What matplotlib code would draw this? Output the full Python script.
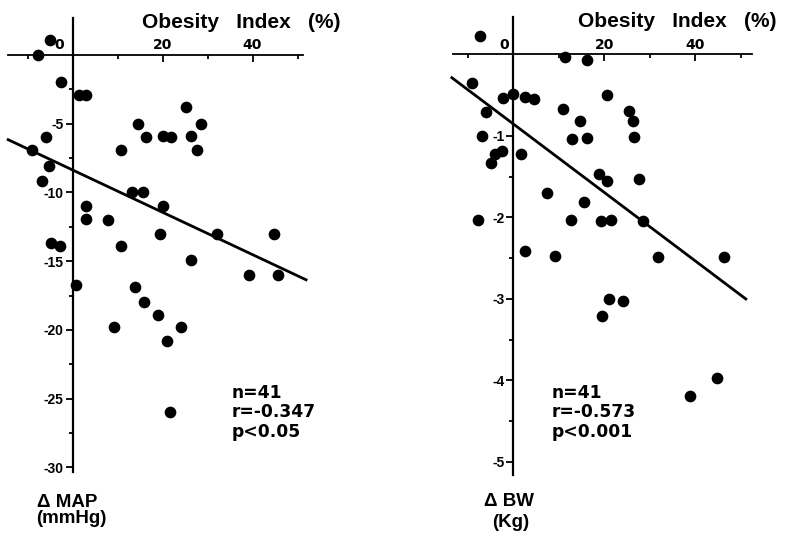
import matplotlib
matplotlib.use("Agg")
import matplotlib.pyplot as plt

W, H = 788, 533
fig = plt.figure(figsize=(W / 100, H / 100), dpi=100)

# ---- data: change in mean arterial pressure vs obesity index ----
map_obesity = [-5.0, -7.6, -2.6, 1.5, 3.1, -5.9, -8.9, -5.2, -6.8, 25.2,
               14.5, 28.5, 16.3, 20.0, 21.9, 26.3, 27.6, 10.7, 13.2, 15.6,
               2.9, 20.2, 2.9, 7.8, 19.4, 32.2, 44.8, -4.8, -2.8, 10.8,
               26.3, 39.3, 45.7, 0.8, 13.9, 15.9, 19.1, 9.2, 24.1, 20.9, 21.6]
map_change = [1.1, 0.0, -2.0, -2.9, -2.9, -6.0, -6.9, -8.1, -9.2, -3.8,
              -5.0, -5.0, -6.0, -5.9, -6.0, -5.9, -6.9, -6.9, -10.0, -10.0,
              -11.0, -11.0, -11.9, -12.0, -13.0, -13.0, -13.0, -13.7, -13.9, -13.9,
              -14.9, -16.0, -16.0, -16.7, -16.9, -18.0, -18.9, -19.8, -19.8, -20.8, -26.0]
map_fit_x = [-14.3, 51.9]
map_fit_y = [-6.16, -16.35]
map_stats = ["n=41", "r=-0.347", "p<0.05"]

# ---- data: change in body weight vs obesity index ----
bw_obesity = [-7.3, 11.4, 16.3, -9.1, -2.3, 0.0, 2.5, 4.5, 20.5, -6.0,
              10.9, 14.7, 25.4, 26.2, -6.9, 13.0, 16.3, 26.6, -2.55, -3.95,
              1.8, -5.0, 18.9, 20.7, 27.6, 7.5, 15.6, -7.8, 12.7, 19.2,
              21.5, 28.6, 2.5, 9.1, 31.7, 46.2, 19.4, 21.1, 24.0, 38.8, 44.8]
bw_change = [0.23, -0.03, -0.07, -0.35, -0.54, -0.49, -0.52, -0.55, -0.50, -0.71,
             -0.67, -0.82, -0.69, -0.82, -1.0, -1.04, -1.03, -1.01, -1.19, -1.22,
             -1.22, -1.33, -1.47, -1.55, -1.53, -1.70, -1.81, -2.03, -2.03, -2.04,
             -2.03, -2.04, -2.41, -2.47, -2.49, -2.49, -3.21, -3.0, -3.02, -4.19, -3.97]
bw_fit_x = [-13.5, 51.1]
bw_fit_y = [-0.285, -3.0]
bw_stats = ["n=41", "r=-0.573", "p<0.001"]

# ---- tick definitions ----
x_tick_values = [0, 20, 40]
x_tick_labels = ["0", "20", "40"]
x_minor = [-10, 10, 30, 50]

map_yticks = [-5, -10, -15, -20, -25, -30]
map_ylabels = ["-5", "-10", "-15", "-20", "-25", "-30"]
map_yminor = [-2.5, -7.5, -12.5, -17.5, -22.5, -27.5]

bw_yticks = [-1, -2, -3, -4, -5]
bw_ylabels = ["-1", "-2", "-3", "-4", "-5"]
bw_yminor = [-0.5, -1.5, -2.5, -3.5, -4.5]

HEAD = "Liberation Sans"
BODY = "DejaVu Sans"


def rect(x0, y0, x1, y1):
    return [x0 / W, 1 - y1 / H, (x1 - x0) / W, (y1 - y0) / H]


def fx(x):
    return x / W


def fy(y):
    return 1 - y / H


def make_panel(box, xlim, ylim, yticks, ylabels, yminor, zero_shift):
    ax = fig.add_axes(rect(*box))
    ax.set_xlim(xlim)
    ax.set_ylim(ylim)
    ax.patch.set_alpha(0)
    for s in ("top", "right"):
        ax.spines[s].set_visible(False)
    ax.spines["left"].set_position(("data", 0))
    ax.spines["bottom"].set_position(("data", 0))
    ax.spines["left"].set_linewidth(1.6)
    ax.spines["bottom"].set_linewidth(1.3)

    ax.set_xticks([v for v in x_tick_values if v != 0])
    ax.set_xticks(x_minor, minor=True)
    ax.tick_params(axis="x", which="both", direction="out", labelbottom=False,
                   width=1.3)
    ax.tick_params(axis="x", which="major", length=5)
    ax.tick_params(axis="x", which="minor", length=3)

    ax.set_yticks(yticks, labels=ylabels)
    ax.set_yticks(yminor, minor=True)
    ax.tick_params(axis="y", which="both", direction="out", width=1.3)
    ax.tick_params(axis="y", which="major", length=5, pad=1.5, labelsize=10)
    ax.tick_params(axis="y", which="minor", length=3)
    for lab in ax.get_yticklabels():
        lab.set_fontweight("bold")
        lab.set_family(HEAD)

    # x tick labels sit just above the axis line
    for v, t in zip(x_tick_values, x_tick_labels):
        dx = zero_shift if v == 0 else 0
        ax.annotate(t, xy=(v, 0), xytext=(dx * 0.72, 4.0), textcoords="offset points",
                    ha="center", va="baseline", fontsize=10, fontweight="bold",
                    family=BODY)
    return ax


# left panel
ax1 = make_panel((8.15, 18, 302.9, 472.0), (-14.3, 51.2), (-30.33, 2.69),
                 map_yticks, map_ylabels, map_yminor, -13)
ax1.plot(map_obesity, map_change, "o", color="black", markersize=7.4, clip_on=False)
ax1.plot(map_fit_x, map_fit_y, color="black", lw=2.0, clip_on=False)

# right panel
ax2 = make_panel((453.0, 17, 752.2, 475.0), (-13.25, 52.5), (-5.16, 0.46),
                 bw_yticks, bw_ylabels, bw_yminor, -9)
ax2.plot(bw_obesity, bw_change, "o", color="black", markersize=7.4, clip_on=False)
ax2.plot(bw_fit_x, bw_fit_y, color="black", lw=2.0, clip_on=False)

# axis titles
title_kw = dict(fontsize=15, fontweight="bold", family=HEAD, va="baseline", ha="left")
fig.text(fx(141.5), fy(28), "Obesity   Index   (%)", **title_kw)
fig.text(fx(578), fy(27), "Obesity   Index   (%)", **title_kw)

lab_kw = dict(fontsize=13.5, fontweight="bold", family=HEAD, va="baseline", ha="left")
fig.text(fx(37), fy(507), "\u0394 MAP", **lab_kw)
fig.text(fx(36), fy(523), "(mmHg)", **lab_kw)
fig.text(fx(484), fy(506), "\u0394 BW", **lab_kw)
fig.text(fx(492), fy(527), "(Kg)", **lab_kw)

# statistics blocks
stat_kw = dict(fontsize=12.3, fontweight="bold", family=BODY, va="baseline", ha="left")
for line, base in zip(map_stats, [398, 417, 437]):
    fig.text(fx(232), fy(base), line, **stat_kw)
for line, base in zip(bw_stats, [398, 417, 437]):
    fig.text(fx(551.5), fy(base), line, **stat_kw)

fig.savefig("out.png", dpi=100)
